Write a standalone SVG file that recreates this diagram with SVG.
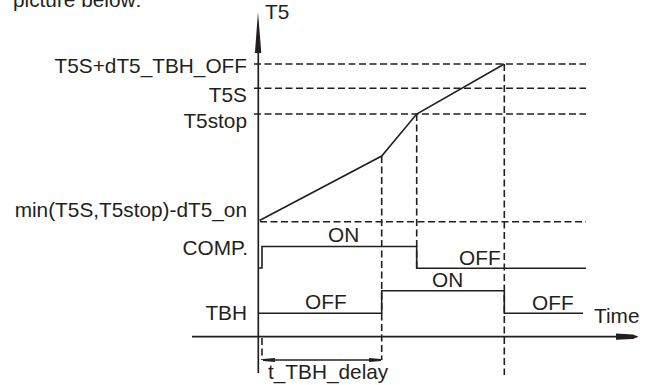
<svg xmlns="http://www.w3.org/2000/svg" width="652" height="385" viewBox="0 0 652 385">
<style>
text{font-family:"Liberation Sans",Arial,sans-serif;font-size:20.8px;fill:#231f20}
.r{text-anchor:end}
.ax{stroke:#231f20;stroke-width:1.7;fill:none}
.ln{stroke:#231f20;stroke-width:1.6;fill:none}
.ds{stroke:#231f20;stroke-width:1.6;fill:none;stroke-dasharray:7 3.5}
.ah{fill:#231f20;stroke:none}
</style>
<defs>
<marker id="arr" viewBox="0 0 12 6" refX="12" refY="3" markerWidth="12" markerHeight="6" markerUnits="userSpaceOnUse" orient="auto-start-reverse">
<path d="M0,1 L12,2 L12,4 L0,5 Z" fill="#231f20"/>
</marker>
</defs>
<text x="13" y="7">picture below:</text>
<g id="axes">
<path class="ax" d="M258.3,50 V373"/>
<polygon class="ah" points="258,12 261.3,53 254.9,53"/>
<path class="ax" d="M192,336.7 H618"/>
<polygon class="ah" points="616,333.6 633,334.5 638.5,336.7 633,338.9 616,339.8"/>
<text x="265" y="18.5">T5</text>
<text x="594" y="323">Time</text>
</g>
<g id="levels">
<text class="r" x="247" y="72.5">T5S+dT5_TBH_OFF</text>
<text class="r" x="247" y="101.7">T5S</text>
<text class="r" x="247" y="128.3">T5stop</text>
<text class="r" x="247" y="216.5">min(T5S,T5stop)-dT5_on</text>
</g>
<g id="comp">
<text class="r" x="248" y="255">COMP.</text>
<text x="328" y="242">ON</text>
<text x="459" y="265">OFF</text>
</g>
<g id="tbh">
<text class="r" x="247" y="320">TBH</text>
<text x="305" y="309">OFF</text>
<text x="432" y="286.7">ON</text>
<text x="532" y="310">OFF</text>
</g>
<g id="delay">
<text x="268" y="379">t_TBH_delay</text>
</g>
<g id="connectors">
<path class="ds" d="M254,64 H586"/>
<path class="ds" d="M254,88.3 H586"/>
<path class="ds" d="M254,114 H586"/>
<path class="ds" d="M260,221.7 H586"/>
<path class="ds" d="M381.7,156 V360"/>
<path class="ds" d="M416.7,114 V268"/>
<path class="ds" d="M504.3,64 V375"/>
<path class="ds" d="M262,338 V360"/>
<path class="ln" d="M259.5,220.5 L381.7,156 L416.7,114 L504.3,64"/>
<path class="ln" d="M258.5,268 H262 V246.5 H416.7 V268.3 H586"/>
<path class="ln" d="M259,313.3 H381.7 V290.7 H504.3 V313.3 H583"/>
<path class="ln" d="M263,360 H381" marker-start="url(#arr)" marker-end="url(#arr)"/>
</g>
</svg>
